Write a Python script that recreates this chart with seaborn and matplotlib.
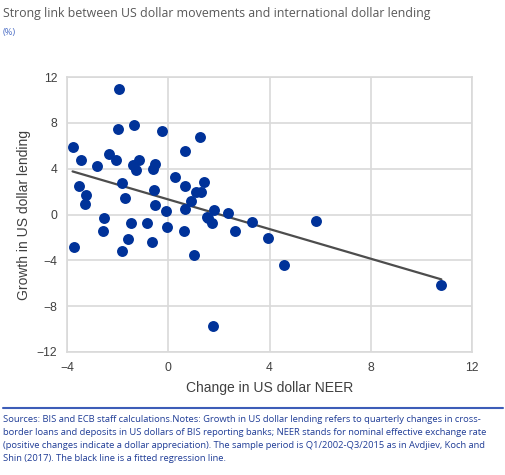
import numpy as np
import matplotlib.pyplot as plt
import pandas as pd
import seaborn as sns

# change in US dollar NEER (%) and growth in US dollar lending (%)
neer = [-1.96, -3.78, -1.98, -1.36, -0.24, -3.43, -2.83, -2.34, -2.07, -1.40,
        -1.15, -1.27, -0.52, -0.59, 0.27, -3.51, -1.81, -0.57, -3.25, -1.71,
        1.25, 0.67, 1.40, 0.67, 1.08, 1.29, 0.90, 0.66, 1.82, 2.35,
        1.54, 1.71, 3.29, -3.30, -0.51, -0.09, -2.54, -1.46, -0.83, -2.59,
        -0.05, -3.71, -1.58, -0.66, -1.82, 1.58, 0.63, 2.63, 3.96, 1.02,
        1.76, 5.85, 4.57, 10.79]
lending = [10.94, 5.93, 7.48, 7.83, 7.33, 4.75, 4.25, 5.27, 4.77, 4.34,
           4.75, 3.90, 4.42, 3.99, 3.23, 2.53, 2.71, 2.15, 1.69, 1.48,
           6.75, 5.53, 2.83, 2.50, 1.98, 1.95, 1.22, 0.50, 0.35, 0.09,
           -0.26, -0.70, -0.67, 0.91, 0.79, 0.32, -0.32, -0.72, -0.70, -1.48,
           -1.10, -2.85, -2.18, -2.41, -3.20, -0.32, -1.42, -1.48, -2.06, -3.57,
           -9.71, -0.61, -4.45, -6.11]

xticks = [-4, 0, 4, 8, 12]
yticks = [-12, -8, -4, 0, 4, 8, 12]

title = "Strong link between US dollar movements and international dollar lending"
note = ("Sources: BIS and ECB staff calculations.Notes: Growth in US dollar lending refers to quarterly changes in cross-\n"
        "border loans and deposits in US dollars of BIS reporting banks; NEER stands for nominal effective exchange rate\n"
        "(positive changes indicate a dollar appreciation). The sample period is Q1/2002-Q3/2015 as in Avdjiev, Koch and\n"
        "Shin (2017). The black line is a fitted regression line.")

df = pd.DataFrame({"neer": neer, "lending": lending})

sns.set_style("white")
plt.rcParams['font.family'] = ['Liberation Sans', 'DejaVu Sans']

blue = "#003299"
grid_c = "#d9d9d9"

fig = plt.figure(figsize=(5.06, 4.75), dpi=100)
ax = fig.add_axes([67 / 506, 1 - 352 / 475, 405 / 506, 275 / 475])

sns.regplot(data=df, x="neer", y="lending", ci=None, ax=ax,
            scatter_kws=dict(s=62, color=blue, linewidths=0, alpha=1, zorder=3),
            line_kws=dict(color="#4d4d4d", lw=1.6, zorder=2))

ax.set_xlim(-4, 12)
ax.set_ylim(-12, 12)
ax.set_xticks(xticks)
ax.set_yticks(yticks)
ax.grid(True, color=grid_c, lw=1.2, zorder=0)
ax.set_axisbelow(True)
for sp in ax.spines.values():
    sp.set_color(grid_c)
    sp.set_linewidth(1.2)
ax.tick_params(length=0, labelsize=8.7, colors="#404040", pad=7)
ax.set_xlabel("Change in US dollar NEER", fontsize=10, color="#404040", labelpad=5)
ax.set_ylabel("Growth in US dollar lending", fontsize=10, color="#404040", labelpad=4)

fig.text(3 / 506, 1 - 14 / 475, title, fontsize=8.9, color="#595959",
         family="Open Sans", va="center", ha="left")
fig.text(3 / 506, 1 - 33 / 475, "(%)", fontsize=6.6, color="#4a6cc4",
         family="Open Sans", va="center", ha="left")
fig.add_artist(plt.Line2D([3 / 506, 503 / 506], [1 - 408 / 475, 1 - 408 / 475],
                          color="#3d5db8", lw=1.5, transform=fig.transFigure))
fig.text(3 / 506, 1 - 415 / 475, note, fontsize=6.75, color="#1f3c96",
         family="Open Sans", va="top", ha="left", linespacing=1.58)

fig.savefig("out.png", dpi=100)
